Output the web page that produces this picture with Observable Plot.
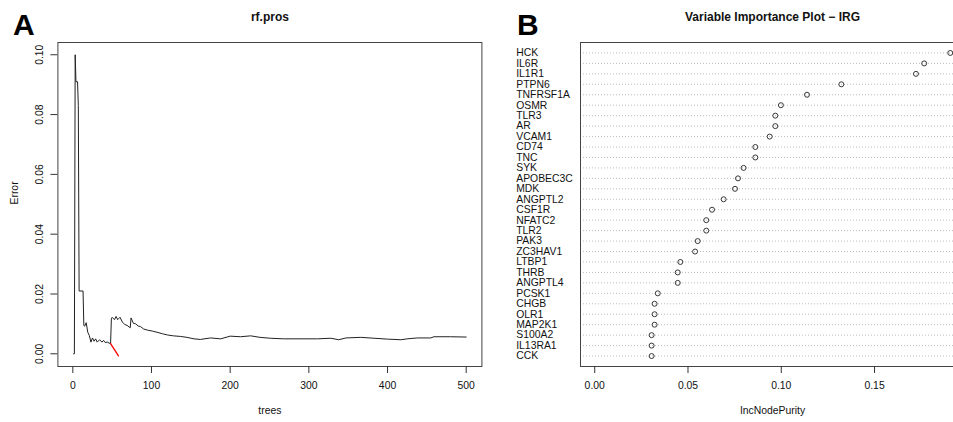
<!DOCTYPE html>
<html>
<head>
<meta charset="utf-8">
<script src="https://cdn.jsdelivr.net/npm/d3@7"></script>
<script src="https://cdn.jsdelivr.net/npm/@observablehq/plot@0.6"></script>
<style>
  html, body { margin: 0; padding: 0; background: #fff; overflow: hidden; }
  #wrap { position: relative; width: 953px; height: 422px; overflow: hidden; }
  .panel { position: absolute; top: 0; height: 422px; }
  .panel svg { max-width: none !important; display: block; }
</style>
</head>
<body>
<div id="wrap">
  <div id="panelA" class="panel" style="left:0px; width:495px"></div>
  <div id="panelB" class="panel" style="left:490px; width:476px"></div>
</div>
<script>
const FONT = '"Liberation Sans", Arial, Helvetica, sans-serif';

// ---- Panel A: error of the random forest as trees are added ----
const treeCounts = [1, 2, 3, 4, 6, 7, 8, 13, 14, 15, 17, 19, 21, 23, 25, 27, 29, 31, 34, 37, 39, 41, 44, 46, 48,
  49, 50, 53, 55, 57, 60, 63, 66, 69, 73, 74, 77, 80, 83, 86, 90, 95, 101, 107, 114, 120, 128, 137, 145,
  154, 162, 175, 188, 200, 213, 226, 238, 251, 268, 290, 311, 328, 338, 347, 366, 383, 400, 417, 425,
  438, 455, 459, 480, 500];
const oobError = [0, 0, 0.100, 0.091, 0.091, 0.083, 0.021, 0.021, 0.0095, 0.0092, 0.0104, 0.0072, 0.0061,
  0.0039, 0.0053, 0.0042, 0.0050, 0.0039, 0.0047, 0.0039, 0.0045, 0.0038, 0.0039, 0.0036, 0.0034,
  0.0117, 0.0122, 0.0114, 0.0125, 0.0114, 0.0122, 0.0106, 0.0098, 0.0095, 0.0087, 0.0120, 0.0102, 0.0100,
  0.0093, 0.0091, 0.0083, 0.0079, 0.0076, 0.0072, 0.0067, 0.0063, 0.0060, 0.0058, 0.0055,
  0.0050, 0.0048, 0.0053, 0.0050, 0.0059, 0.0057, 0.0060, 0.0055, 0.0052, 0.0050, 0.0050, 0.0050,
  0.0052, 0.0047, 0.0053, 0.0055, 0.0052, 0.0049, 0.0047, 0.0050, 0.0053, 0.0053, 0.0057, 0.0057, 0.0056];
const testTrees = [48, 58];
const testError = [0.0034, -0.0007];
const treeTicks = [0, 100, 200, 300, 400, 500];
const errorTicks = [0, 0.02, 0.04, 0.06, 0.08, 0.10];

// ---- Panel B: variable importance (IncNodePurity) ----
const genes = ["HCK", "IL6R", "IL1R1", "PTPN6", "TNFRSF1A", "OSMR", "TLR3", "AR", "VCAM1", "CD74",
  "TNC", "SYK", "APOBEC3C", "MDK", "ANGPTL2", "CSF1R", "NFATC2", "TLR2", "PAK3", "ZC3HAV1",
  "LTBP1", "THRB", "ANGPTL4", "PCSK1", "CHGB", "OLR1", "MAP2K1", "S100A2", "IL13RA1", "CCK"];
const incNodePurity = [0.1906, 0.1766, 0.1722, 0.1322, 0.1138, 0.0998, 0.0968, 0.0968, 0.0938, 0.0861,
  0.0861, 0.0798, 0.0768, 0.0752, 0.0691, 0.0629, 0.0598, 0.0598, 0.0552, 0.0538,
  0.0459, 0.0445, 0.0445, 0.0338, 0.0321, 0.0321, 0.0321, 0.0305, 0.0305, 0.0305];
const purityTicks = [0, 0.05, 0.10, 0.15];

const fmt2 = d3.format(".2f");
const textFill = "#111";
const tickSize = 10.4;

// ---------- Panel A ----------
const errRows = treeCounts.map((t, i) => ({tree: t, err: oobError[i]}));
const testRows = testTrees.map((t, i) => ({tree: t, err: testError[i]}));
const nT = 500;
const padT = (nT - 1) * 0.04;

const chartA = Plot.plot({
  width: 495, height: 422,
  marginLeft: 57.4, marginRight: 13.6, marginTop: 42, marginBottom: 56,
  style: {fontFamily: FONT, color: "#333", background: "transparent", overflow: "visible"},
  x: {domain: [1 - padT, nT + padT]},
  y: {domain: [-0.00425, 0.1041]},
  marks: [
    Plot.frame({stroke: "#444", strokeWidth: 1}),
    Plot.axisX(treeTicks, {tickSize: 7, tickFormat: () => "", label: null}),
    Plot.axisY(errorTicks, {tickSize: 7, tickFormat: () => "", label: null}),
    Plot.text(treeTicks, {x: d => d, frameAnchor: "bottom", dy: 19, lineAnchor: "middle",
      text: d => String(d), fontSize: tickSize, fill: textFill}),
    Plot.text(errorTicks, {y: d => d, frameAnchor: "left", dx: -18, rotate: -90, textAnchor: "middle",
      lineAnchor: "middle", text: d => fmt2(d), fontSize: tickSize, fill: textFill}),
    Plot.line(errRows, {x: "tree", y: "err", stroke: "#222", strokeWidth: 1}),
    Plot.line(testRows, {x: "tree", y: "err", stroke: "#ff0000", strokeWidth: 1.3}),
    Plot.text(["rf.pros"], {frameAnchor: "top", dy: -25.3, lineAnchor: "middle",
      fontSize: 12, fontWeight: "bold", fill: textFill}),
    Plot.text(["trees"], {frameAnchor: "bottom", dy: 44, lineAnchor: "middle",
      fontSize: tickSize, fill: textFill}),
    Plot.text(["Error"], {frameAnchor: "left", dx: -43.2, rotate: -90, lineAnchor: "middle",
      fontSize: tickSize, fill: textFill}),
    Plot.text(["A"], {frameAnchor: "top-left", dx: -45, dy: -7.7, textAnchor: "start", lineAnchor: "bottom",
      fontSize: 30, fontWeight: "bold", fill: "#000"})
  ]
});
document.getElementById("panelA").appendChild(chartA);

// ---------- Panel B ----------
const nG = genes.length;
const impRows = genes.map((g, i) => ({gene: g, value: incNodePurity[i], pos: nG - i}));
const maxImp = d3.max(incNodePurity);
const padI = maxImp * 0.04;

const chartB = Plot.plot({
  width: 476, height: 422,
  marginLeft: 90, marginRight: 2, marginTop: 42, marginBottom: 56,
  style: {fontFamily: FONT, color: "#333", background: "transparent", overflow: "visible"},
  x: {domain: [0 - padI, maxImp + padI]},
  y: {domain: [0, nG + 1], axis: null},
  marks: [
    Plot.ruleY(impRows, {y: "pos", stroke: "#bdbdbd", strokeWidth: 1, strokeDasharray: "1,2"}),
    Plot.frame({stroke: "#444", strokeWidth: 1}),
    Plot.axisX(purityTicks, {tickSize: 7, tickFormat: () => "", label: null}),
    Plot.text(purityTicks, {x: d => d, frameAnchor: "bottom", dy: 19, lineAnchor: "middle",
      text: d => fmt2(d), fontSize: tickSize, fill: textFill}),
    Plot.dot(impRows, {x: "value", y: "pos", r: 2.5, stroke: "#222", strokeWidth: 0.9, fill: "none"}),
    Plot.text(impRows, {y: "pos", text: "gene", frameAnchor: "left", dx: -64.3, textAnchor: "start",
      lineAnchor: "middle", fontSize: tickSize, fill: textFill}),
    Plot.text(["Variable Importance Plot \u2212 IRG"], {frameAnchor: "top", dy: -25.3, lineAnchor: "middle",
      fontSize: 12, fontWeight: "bold", fill: textFill}),
    Plot.text(["IncNodePurity"], {frameAnchor: "bottom", dy: 44, lineAnchor: "middle",
      fontSize: tickSize, fill: textFill}),
    Plot.text(["B"], {frameAnchor: "top-left", dx: -63.5, dy: -7.7, textAnchor: "start", lineAnchor: "bottom",
      fontSize: 30, fontWeight: "bold", fill: "#000"})
  ]
});
document.getElementById("panelB").appendChild(chartB);
</script>
</body>
</html>
